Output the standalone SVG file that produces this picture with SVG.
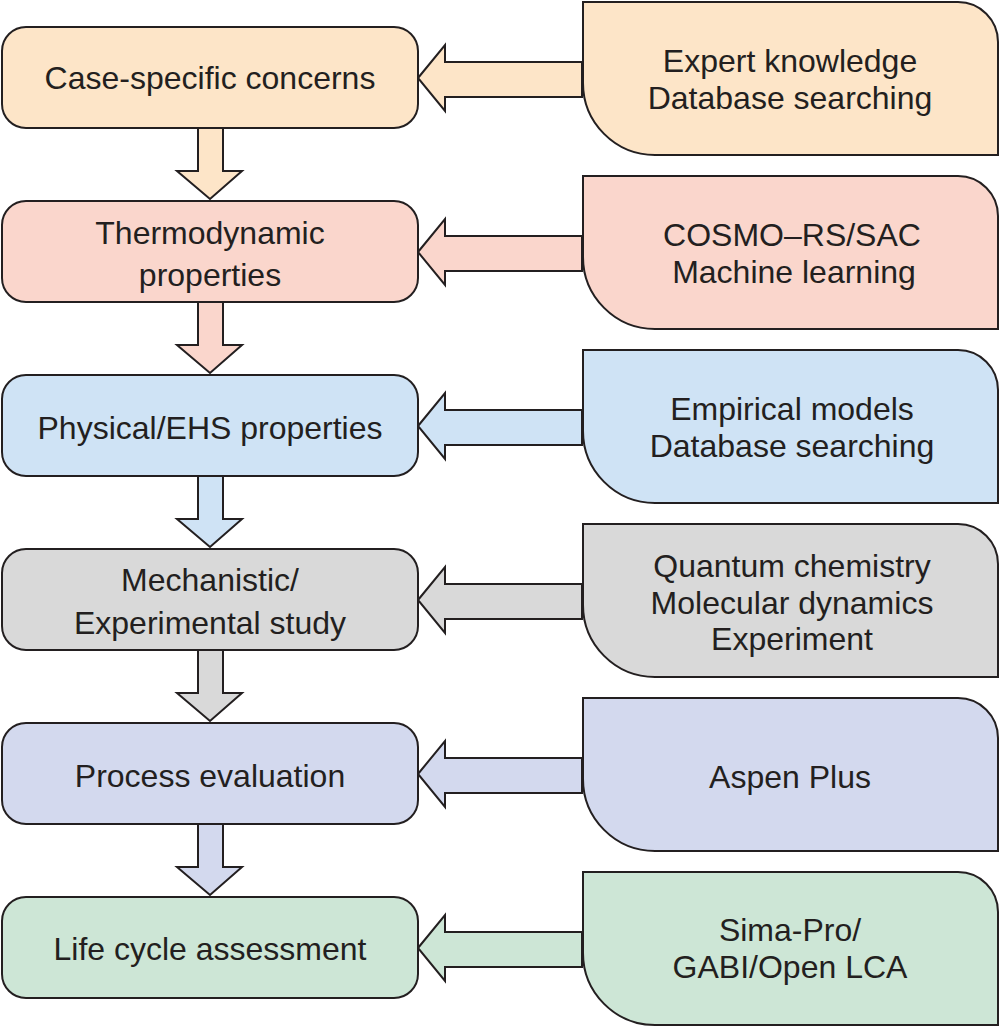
<svg xmlns="http://www.w3.org/2000/svg" width="1000" height="1027" viewBox="0 0 1000 1027">
<style>
.b{stroke:#231f20;stroke-width:2}
text{font-family:"Liberation Sans",Arial,sans-serif;font-size:32px;fill:#231f20;text-anchor:middle}
</style>
<defs>
<path id="rs" d="M0,0 H375 A40,40 0 0 1 415,40 V153 H72 A72,72 0 0 1 0,81 Z"/>
<path id="la" d="M0,33 L27,0 V17 H164 V52 H27 V66 Z"/>
<path id="da" d="M21,0 H46 V43 H65 L33,71 L0,43 H21 Z"/>
</defs>
<rect width="1000" height="1027" fill="#fff"/>
<g id="connectors">
<use href="#la" x="418" y="45" fill="#fde5c8" class="b"/>
<use href="#la" x="418" y="219" fill="#fad6cc" class="b"/>
<use href="#la" x="418" y="393" fill="#cfe3f5" class="b"/>
<use href="#la" x="418" y="567" fill="#d9d9d9" class="b"/>
<use href="#la" x="418" y="741" fill="#d3d9ee" class="b"/>
<use href="#la" x="418" y="915" fill="#cde6d6" class="b"/>
<use href="#da" x="177" y="128" fill="#fde5c8" class="b"/>
<use href="#da" x="177" y="302" fill="#fad6cc" class="b"/>
<use href="#da" x="177" y="476" fill="#cfe3f5" class="b"/>
<use href="#da" x="177" y="650" fill="#d9d9d9" class="b"/>
<use href="#da" x="177" y="824" fill="#d3d9ee" class="b"/>
</g>
<g id="n1"><rect x="2" y="27" width="416" height="101" rx="24" fill="#fde5c8" class="b"/><text x="210" y="89">Case-specific concerns</text></g>
<g id="r1"><use href="#rs" x="583" y="2" fill="#fde5c8" class="b"/><text x="790" y="72">Expert knowledge</text><text x="790" y="109">Database searching</text></g>
<g id="n2"><rect x="2" y="201" width="416" height="101" rx="24" fill="#fad6cc" class="b"/><text x="210" y="244">Thermodynamic</text><text x="210" y="286">properties</text></g>
<g id="r2"><use href="#rs" x="583" y="176" fill="#fad6cc" class="b"/><text x="792" y="246">COSMO–RS/SAC</text><text x="794" y="283">Machine learning</text></g>
<g id="n3"><rect x="2" y="375" width="416" height="101" rx="24" fill="#cfe3f5" class="b"/><text x="210" y="439">Physical/EHS properties</text></g>
<g id="r3"><use href="#rs" x="583" y="350" fill="#cfe3f5" class="b"/><text x="792" y="420">Empirical models</text><text x="792" y="457">Database searching</text></g>
<g id="n4"><rect x="2" y="549" width="416" height="101" rx="24" fill="#d9d9d9" class="b"/><text x="210" y="591">Mechanistic/</text><text x="210" y="634">Experimental study</text></g>
<g id="r4"><use href="#rs" x="583" y="524" fill="#d9d9d9" class="b"/><text x="792" y="577">Quantum chemistry</text><text x="792" y="614">Molecular dynamics</text><text x="792" y="650">Experiment</text></g>
<g id="n5"><rect x="2" y="723" width="416" height="101" rx="24" fill="#d3d9ee" class="b"/><text x="210" y="787">Process evaluation</text></g>
<g id="r5"><use href="#rs" x="583" y="698" fill="#d3d9ee" class="b"/><text x="790" y="788">Aspen Plus</text></g>
<g id="n6"><rect x="2" y="897" width="416" height="101" rx="24" fill="#cde6d6" class="b"/><text x="210" y="960">Life cycle assessment</text></g>
<g id="r6"><use href="#rs" x="583" y="872" fill="#cde6d6" class="b"/><text x="790" y="941">Sima-Pro/</text><text x="790" y="978">GABI/Open LCA</text></g>
</svg>
